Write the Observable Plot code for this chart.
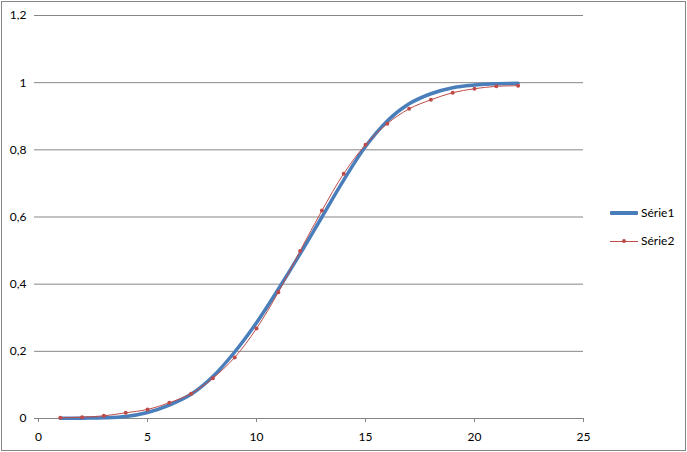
<!DOCTYPE html>
<html>
<head>
<meta charset="utf-8">
<script src="https://cdn.jsdelivr.net/npm/d3@7"></script>
<script src="https://cdn.jsdelivr.net/npm/@observablehq/plot@0.6"></script>
<style>
  html, body { margin: 0; padding: 0; background: #fff; }
  #wrap { position: relative; width: 687px; height: 452px; font-family: Lato, "Liberation Sans", sans-serif; }
  #border { position: absolute; left: 1px; top: 1px; width: 683px; height: 448px; border: 1px solid #868686; pointer-events: none; }
  .leg { position: absolute; left: 610px; height: 16px; font-size: 12px; color: #000; }
  .leg .sw { position: absolute; left: 0; width: 28px; }
  .leg .lab { position: absolute; left: 31px; top: 0; line-height: 16px; white-space: nowrap; }
  .leg .dot { position: absolute; left: 12px; width: 4px; height: 4px; border-radius: 2px; background: #BE4B48; }
</style>
</head>
<body>
<div id="wrap">
  <div id="chart"></div>
  <div class="leg" style="top:205px"><div class="sw" style="top:6px;height:4px;background:#4A7EBB;border-radius:1px"></div><div class="lab">Série1</div></div>
  <div class="leg" style="top:233px"><div class="sw" style="top:7.5px;height:1px;background:#BE4B48"></div><div class="dot" style="top:6px"></div><div class="lab">Série2</div></div>
  <div id="border"></div>
</div>
<script>
const xValues = [1,2,3,4,5,6,7,8,9,10,11,12,13,14,15,16,17,18,19,20,21,22];
const serie1 = [0.0005,0.001,0.002,0.006,0.018,0.04,0.072,0.125,0.198,0.285,0.385,0.49,0.60,0.71,0.81,0.886,0.937,0.967,0.985,0.993,0.997,0.998];
const serie2 = [0.002,0.004,0.008,0.017,0.027,0.047,0.074,0.12,0.182,0.268,0.376,0.499,0.619,0.729,0.815,0.878,0.922,0.949,0.970,0.982,0.989,0.991];
const yTicks = [0, 0.2, 0.4, 0.6, 0.8, 1, 1.2];
const xTicks = [0, 5, 10, 15, 20, 25];

const d1 = xValues.map((x, i) => ({x, y: serie1[i]}));
const d2 = xValues.map((x, i) => ({x, y: serie2[i]}));
const grid = "#868686";
const fmt = d => String(d).replace(".", ",");

const chart = Plot.plot({
  width: 687,
  height: 452,
  marginLeft: 38,
  marginRight: 104,
  marginTop: 15,
  marginBottom: 34,
  style: {fontFamily: "Lato, 'Liberation Sans', sans-serif", fontSize: "12px", color: "#000", background: "transparent"},
  x: {domain: [0, 25]},
  y: {domain: [0, 1.2]},
  marks: [
    Plot.ruleY(yTicks, {stroke: grid, strokeWidth: 1, strokeOpacity: 1}),
    Plot.axisY({ticks: yTicks, tickFormat: fmt, tickSize: 4, tickPadding: 8, stroke: grid, strokeOpacity: 1, fill: "#000", label: null}),
    Plot.axisX({ticks: xTicks, tickSize: 4, tickPadding: 10, stroke: grid, strokeOpacity: 1, fill: "#000", label: null}),
    Plot.line(d1, {x: "x", y: "y", stroke: "#4A7EBB", strokeWidth: 3.5, curve: "catmull-rom"}),
    Plot.line(d2, {x: "x", y: "y", stroke: "#BE4B48", strokeWidth: 1, curve: "catmull-rom"}),
    Plot.dot(d2, {x: "x", y: "y", r: 2, fill: "#BE4B48", stroke: "none"})
  ]
});
document.getElementById("chart").appendChild(chart);
</script>
</body>
</html>
